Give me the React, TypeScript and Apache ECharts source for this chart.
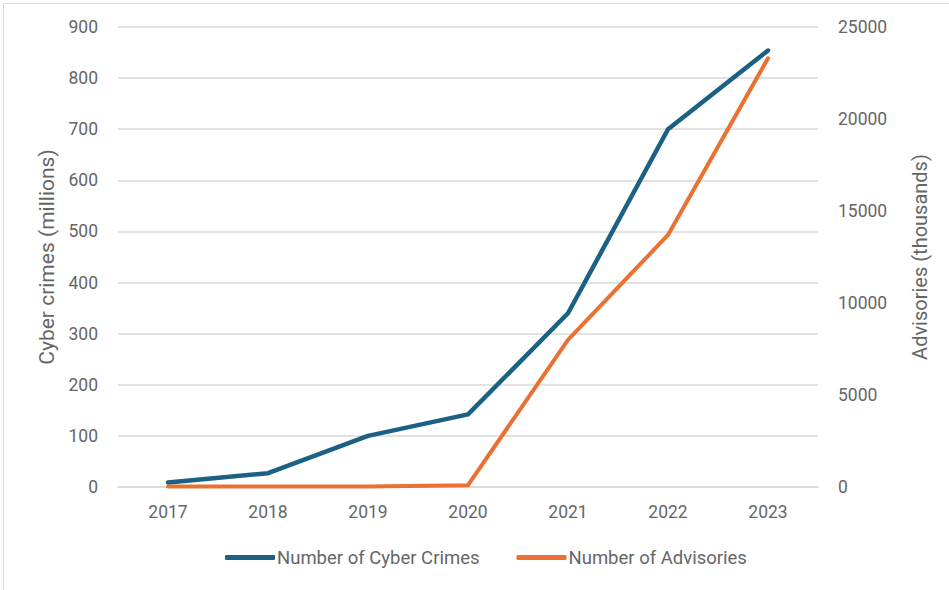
import React, { useEffect, useRef } from "react";
import * as echarts from "echarts";

const years = ["2017", "2018", "2019", "2020", "2021", "2022", "2023"];
const cyberCrimes = [9, 27, 100, 142, 340, 700, 854];
const advisories = [30, 30, 30, 100, 8000, 13700, 23300];

const BLUE = "#1a6183";
const ORANGE = "#e97132";
const TEXT = "#666666";
const GRID = "#d9d9d9";
const FONT = "Roboto, 'Liberation Sans', sans-serif";

export default function App() {
  const ref = useRef<HTMLDivElement>(null);

  useEffect(() => {
    if (!ref.current) return;
    const chart = echarts.init(ref.current, null, { renderer: "svg" });
    chart.setOption({
      animation: false,
      backgroundColor: "#ffffff",
      textStyle: { fontFamily: FONT },
      graphic: [
        {
          type: "rect",
          shape: { x: 3.5, y: 3.5, width: 960, height: 600 },
          style: { fill: "none", stroke: "#d9d9d9", lineWidth: 1 },
          silent: true,
        },
      ],
      grid: { left: 118, right: 131, top: 27, bottom: 103 },
      legend: {
        bottom: 18,
        left: 220,
        itemWidth: 50,
        itemHeight: 5,
        itemGap: 37,
        icon: "roundRect",
        textStyle: { color: TEXT, fontSize: 18.5, fontFamily: FONT, padding: [0, 0, 0, -3] },
        data: ["Number of Cyber Crimes", "Number of Advisories"],
      },
      xAxis: {
        type: "category",
        data: years,
        boundaryGap: true,
        axisLine: { show: true, lineStyle: { color: GRID, width: 1.5 } },
        axisTick: { show: false },
        axisLabel: { color: TEXT, fontSize: 17.5, margin: 16 },
      },
      yAxis: [
        {
          type: "value",
          min: 0,
          max: 900,
          interval: 100,
          name: "Cyber crimes (millions)",
          nameLocation: "middle",
          nameGap: 58,
          nameTextStyle: { color: TEXT, fontSize: 21 },
          axisLine: { show: false },
          axisTick: { show: false },
          axisLabel: { color: TEXT, fontSize: 17.5, margin: 20 },
          splitLine: { lineStyle: { color: GRID, width: 1.5 } },
        },
        {
          type: "value",
          min: 0,
          max: 25000,
          interval: 5000,
          name: "Advisories (thousands)",
          nameLocation: "middle",
          nameGap: 92,
          nameTextStyle: { color: TEXT, fontSize: 20 },
          axisLine: { show: false },
          axisTick: { show: false },
          axisLabel: {
            color: TEXT,
            fontSize: 17.5,
            margin: 20,
            formatter: (v: number) => String(v),
          },
          splitLine: { show: false },
        },
      ],
      series: [
        {
          name: "Number of Cyber Crimes",
          type: "line",
          yAxisIndex: 0,
          data: cyberCrimes,
          symbol: "none",
          color: BLUE,
          lineStyle: { color: BLUE, width: 4.5, cap: "round", join: "round" },
          z: 3,
        },
        {
          name: "Number of Advisories",
          type: "line",
          yAxisIndex: 1,
          data: advisories,
          symbol: "none",
          color: ORANGE,
          lineStyle: { color: ORANGE, width: 4, cap: "round", join: "round" },
          z: 4,
        },
      ],
    });
    return () => chart.dispose();
  }, []);

  return <div ref={ref} style={{ width: 949, height: 590, position: "absolute", left: 0, top: 0 }} />;
}
